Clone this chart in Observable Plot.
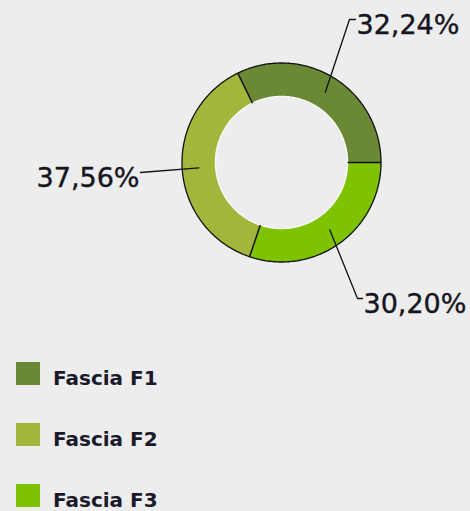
<!DOCTYPE html>
<html>
<head>
<meta charset="utf-8">
<script src="https://cdn.jsdelivr.net/npm/d3@7"></script>
<script src="https://cdn.jsdelivr.net/npm/@observablehq/plot@0.6"></script>
<style>
  html, body { margin: 0; padding: 0; background: #ededed; }
  #chart { width: 470px; height: 511px; position: relative; overflow: hidden; }
  .legend { position: relative; height: 171px; font-family: "DejaVu Sans", sans-serif; font-weight: bold; font-size: 20px; color: #1a1a2a; }
  .item { position: absolute; left: 16px; height: 23px; }
  .sw { position: absolute; left: 0; top: 0; width: 24px; height: 23px; }
  .lab { position: absolute; left: 37px; top: 5px; white-space: nowrap; line-height: 23px; }
</style>
</head>
<body>
<div id="chart"></div>
<script>
// ---- data ----
const categories = ["Fascia F1", "Fascia F2", "Fascia F3"];
const shares = [32.24, 37.56, 30.20];
const shareLabels = ["32,24%", "37,56%", "30,20%"];
const colors = ["#6b8934", "#a3b53a", "#7ec200"];
const sliceOrder = [0, 2, 1]; // clockwise order of slices around the ring

// ---- layout ----
const W = 470, H = 340, cx = 281, cy = 162;
const R = 99.5, r = 66, rMid = (R + r) / 2;
// leader elbows relative to centre, tail length, label offset
const leaderLayout = [
  {dx: 68, dy: -143, tail: 6, anchor: "start", tx: 1},
  {dx: -141, dy: 10, tail: 0, anchor: "end", tx: -1},
  {dx: 76, dy: 136, tail: 5, anchor: "start", tx: 1}
];

const total = d3.sum(shares);
const start = Math.PI / 2 - (shares[0] / total) * 2 * Math.PI; // F1 ends at 3 o'clock
const arcs = d3.pie().sort(null).value(i => shares[i]).startAngle(start).endAngle(start + 2 * Math.PI)(sliceOrder);

const px = (rad, a) => rad * Math.sin(a);
const py = (rad, a) => -rad * Math.cos(a);

// slice polygons
const polys = [];
for (const arc of arcs) {
  const n = Math.max(8, Math.ceil((arc.endAngle - arc.startAngle) / (Math.PI / 180)));
  for (let j = 0; j <= n; j++) {
    const a = arc.startAngle + (arc.endAngle - arc.startAngle) * j / n;
    polys.push({cat: categories[arc.data], x: px(R, a), y: py(R, a)});
  }
  for (let j = n; j >= 0; j--) {
    const a = arc.startAngle + (arc.endAngle - arc.startAngle) * j / n;
    polys.push({cat: categories[arc.data], x: px(r, a), y: py(r, a)});
  }
}
const ring = (rad) => d3.range(0, 361).map(d => ({x: px(rad, d * Math.PI / 180), y: py(rad, d * Math.PI / 180)}));
const seps = arcs.map(a => ({x1: px(r, a.startAngle), y1: py(r, a.startAngle), x2: px(R, a.startAngle), y2: py(R, a.startAngle)}));
const leaders = [];
const labelsPos = [];
for (const arc of arcs) {
  const i = arc.data, L = leaderLayout[i];
  const m = (arc.startAngle + arc.endAngle) / 2;
  const sgn = L.anchor === "start" ? 1 : -1;
  leaders.push({k: i, x: px(rMid, m), y: py(rMid, m)});
  leaders.push({k: i, x: L.dx, y: L.dy});
  leaders.push({k: i, x: L.dx + sgn * L.tail, y: L.dy});
  labelsPos.push({text: shareLabels[i], x: L.dx + sgn * L.tail + L.tx, y: L.dy + 6, anchor: L.anchor});
}

const textOpts = {x: "x", y: "y", text: "text", fontSize: 27, fill: "#161622", fontFamily: "DejaVu Sans", stroke: "#161622", strokeWidth: 0.4};

const plot = Plot.plot({
  width: W, height: H,
  margin: 0,
  style: {background: "transparent", overflow: "visible"},
  x: {domain: [-cx, W - cx], range: [0, W], axis: null},
  y: {domain: [-cy, H - cy], range: [0, H], axis: null},
  color: {domain: categories, range: colors},
  marks: [
    Plot.line(polys, {x: "x", y: "y", z: "cat", fill: "cat", stroke: "none", curve: "linear"}),
    Plot.line(ring(r), {x: "x", y: "y", stroke: "#f8f8f8", strokeWidth: 1.5, curve: "linear"}),
    Plot.line(ring(R), {x: "x", y: "y", stroke: "#111", strokeWidth: 1.3, curve: "linear"}),
    Plot.link(seps, {x1: "x1", y1: "y1", x2: "x2", y2: "y2", stroke: "#111", strokeWidth: 1.5}),
    Plot.line(leaders, {x: "x", y: "y", z: "k", stroke: "#111", strokeWidth: 1.3, curve: "linear"}),
    Plot.text(labelsPos.filter(d => d.anchor === "start"), {...textOpts, textAnchor: "start"}),
    Plot.text(labelsPos.filter(d => d.anchor === "end"), {...textOpts, textAnchor: "end"})
  ]
});
document.getElementById("chart").appendChild(plot);

// legend (HTML, below the svg)
const legend = document.createElement("div");
legend.className = "legend";
categories.forEach((c, i) => {
  const item = document.createElement("div");
  item.className = "item";
  item.style.top = (22 + i * 61) + "px";
  const sw = document.createElement("div");
  sw.className = "sw";
  sw.style.background = colors[i];
  const lab = document.createElement("div");
  lab.className = "lab";
  lab.textContent = c;
  item.appendChild(sw); item.appendChild(lab);
  legend.appendChild(item);
});
document.getElementById("chart").appendChild(legend);
</script>
</body>
</html>
